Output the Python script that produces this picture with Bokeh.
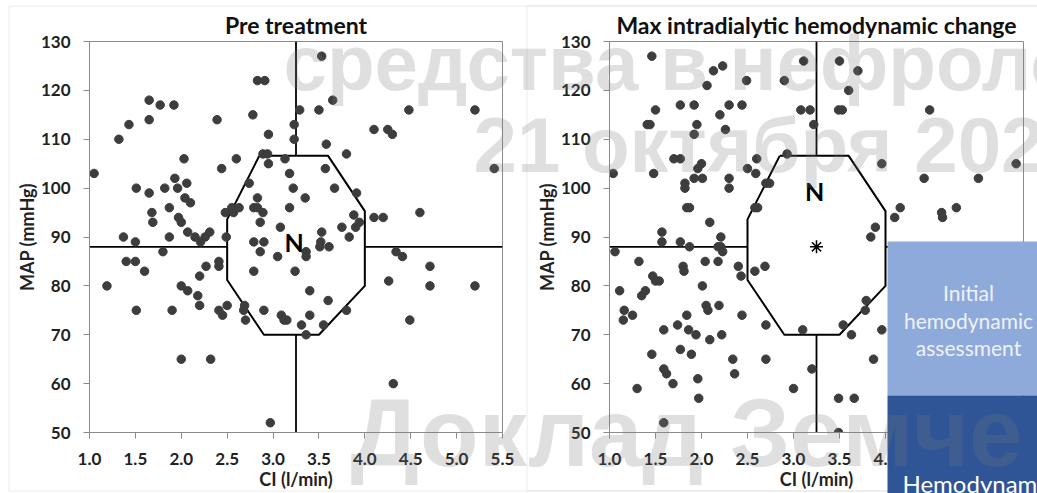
from bokeh.plotting import figure
from bokeh.layouts import row
from bokeh.models import Range1d, FixedTicker, NumeralTickFormatter, BoxAnnotation, Label, GridBox
from bokeh.core.properties import value
from bokeh.embed import file_html
from bokeh.resources import INLINE

# ---------------- data ----------------
pre_ci = [1.05, 1.32, 1.43, 1.65, 1.65, 1.77, 1.92, 1.51, 1.65, 1.68, 1.69, 1.37, 1.5, 1.82, 1.87, 1.87,
          1.93, 1.96, 2.03, 2.06, 2.04, 2.1, 1.97, 2.0, 2.07, 2.15, 2.21, 2.26, 2.31, 2.39, 2.44, 2.49,
          2.48, 2.55, 2.57, 2.6, 2.63, 2.74, 2.78, 2.83, 2.91, 2.83, 2.79, 2.83, 2.89, 2.86, 2.79, 2.9,
          2.89, 2.94, 2.95, 2.95, 3.08, 3.13, 3.18, 3.22, 3.18, 3.23, 3.23, 3.29, 3.35, 3.53, 3.50, 3.65,
          3.58, 3.57, 3.67, 3.8, 3.91, 3.88, 3.94, 3.90, 3.75, 3.83, 3.53, 3.52, 3.61, 4.1, 4.25, 4.3,
          4.2, 4.1, 4.48, 4.6, 5.2, 5.41,
          1.19, 1.4, 1.5, 1.6, 1.51, 1.8, 1.9, 2.0, 2.07, 2.18, 2.2, 2.2, 2.27, 2.41, 2.41, 2.41, 2.45,
          2.5, 2.0, 2.32, 2.69, 2.68, 2.7, 2.79, 2.9, 2.86, 2.97, 3.05, 3.09, 3.12, 3.15, 3.24, 3.31,
          3.36, 3.36, 3.40, 3.40, 3.36, 3.55, 3.6, 3.51, 3.8, 4.26, 4.34, 4.41, 4.31, 4.49, 4.71, 4.71, 5.2]
pre_map = [103, 110, 113, 118, 114, 117, 117, 100, 99, 95, 93, 90, 89, 100, 96, 90,
           102, 100, 106, 101, 98, 97, 94, 93, 91, 90, 89, 90, 91, 114, 104, 90,
           95, 96, 95, 106, 96, 101, 115, 122, 122, 98, 96, 96, 95, 93, 89, 89,
           107, 107, 105, 111, 92, 106, 103, 100, 96, 113, 110, 116, 98, 127, 116, 118,
           109, 104, 100, 107, 99, 94.5, 93, 92, 92, 90, 91, 89, 88, 112, 112, 111,
           94, 94, 116, 95, 116, 104,
           80, 85, 85, 83, 75, 87, 75, 80, 79, 78, 82, 76, 84, 84, 85, 75, 74,
           76, 65, 65, 76, 75, 73, 83, 75, 87, 52, 86, 74, 73, 73, 83, 72,
           87, 86, 79, 74, 70, 72, 77, 88, 75, 81, 87, 86, 60, 73, 84, 80, 80]

max_ci = [1.04, 1.46, 1.41, 1.44, 1.5, 1.48, 1.7, 1.77, 1.77, 1.92, 1.95, 1.92, 1.82, 1.82, 1.84, 1.87,
          1.92, 2.01, 1.96, 2.0, 2.06, 2.13, 2.23, 2.2, 2.3, 2.26, 2.3, 2.3, 2.09, 1.57, 1.57, 2.21,
          2.44, 2.49, 2.5, 2.6, 2.59, 2.7, 2.74, 2.58, 2.61, 2.9, 2.93, 3.11, 3.08, 3.18, 3.22, 3.5,
          3.7, 3.6, 3.49, 3.53, 3.96, 3.84, 3.89, 4.1, 4.16, 4.42, 4.48, 4.61, 4.62, 4.77, 5.01, 5.42,
          1.06, 1.11, 1.16, 1.15, 1.25, 1.32, 1.3, 1.35, 1.39, 1.47, 1.5, 1.54, 1.46, 1.59, 1.59, 1.62,
          1.69, 1.59, 1.74, 1.77, 1.8, 1.81, 1.84, 1.86, 1.94, 1.89, 1.96, 1.97, 2.01, 2.04, 2.05, 2.07,
          2.09, 2.19, 2.18, 2.22, 2.21, 2.23, 2.34, 2.36, 2.4, 2.43, 2.44, 2.58, 2.69, 2.7, 2.7, 3.0,
          3.1, 3.2, 3.49, 3.66, 3.49, 3.54, 3.63, 3.79, 3.78, 3.87, 3.96, 1.77, 1.87, 2.18]
max_map = [103, 127, 113, 113, 116, 103, 106, 106, 117, 117, 113, 111, 101, 100, 96, 96,
           102, 102, 104, 105, 121, 124, 125, 115, 117, 112, 102, 100, 93, 91, 89, 90,
           117, 122, 104, 106, 103, 101, 101, 96, 96, 122, 107, 126, 116, 116, 113, 126,
           124, 120, 116, 116, 105, 90, 92, 94, 96, 102, 116, 95, 94, 96, 102, 105,
           87, 79, 75, 73, 74, 85, 59, 78, 79, 82, 81, 81, 66, 71, 63, 62,
           60, 52, 72, 67, 84, 83, 74, 71, 70, 66, 61, 57, 80, 85, 76, 75,
           69, 76, 85, 70, 88, 87, 65, 62, 84, 82, 74, 83, 84, 72, 65, 59,
           71, 63, 57, 57, 50, 72, 70, 77, 75, 65, 71, 89, 88, 88]

x_ticks = [1.0, 1.5, 2.0, 2.5, 3.0, 3.5, 4.0, 4.5, 5.0, 5.5]
y_ticks = [50, 60, 70, 80, 90, 100, 110, 120, 130]

# normal hemodynamic zone (octagon) and reference cross
zone_ci = [2.85, 3.6, 4.0, 4.0, 3.5, 2.9, 2.5, 2.5, 2.85]
zone_map = [106.6, 106.6, 95.3, 80.0, 70.0, 70.0, 81.2, 93.6, 106.6]
ref_ci = 3.25
ref_map = 88.0

# slide texts
box_lines = ["Initial", "hemodynamic", "assessment"]
box2_text = "Hemodynamic"
wm_lines = ["средства в нефроло", "21 октября 202", "Доклад Земче"]

FONT = "Lato"
AX = "#8a8a8a"
PT = "#3d3d3d"


def make_panel(title, ci, mp, n_map, star, w, right_border):
    p = figure(width=w, height=493, x_range=Range1d(1.0, 5.5), y_range=Range1d(50, 130),
               output_backend="svg", toolbar_location=None,
               min_border_left=89, min_border_right=right_border,
               min_border_top=41, min_border_bottom=61)
    p.title.text = title
    p.title.align = "center"
    p.title.text_font = FONT
    p.title.text_font_size = "23px"
    p.title.text_font_style = "bold"
    p.title.text_color = "#111111"
    p.title.standoff = 6
    p.xgrid.visible = False
    p.ygrid.visible = False
    p.background_fill_color = "white"
    p.border_fill_color = "white"
    p.outline_line_color = AX
    p.outline_line_width = 1
    p.xaxis.ticker = FixedTicker(ticks=x_ticks)
    p.xaxis.formatter = NumeralTickFormatter(format="0.0")
    p.yaxis.ticker = FixedTicker(ticks=y_ticks)
    for ax in (p.xaxis[0], p.yaxis[0]):
        ax.axis_line_color = AX
        ax.major_tick_line_color = AX
        ax.minor_tick_line_color = None
        ax.major_tick_in = 0
        ax.major_tick_out = 6
        ax.major_label_text_font = FONT
        ax.major_label_text_font_size = "17px"
        ax.major_label_text_font_style = "bold"
        ax.major_label_text_color = "#222222"
        ax.axis_label_text_font = FONT
        ax.axis_label_text_font_size = "18px"
        ax.axis_label_text_font_style = "bold"
        ax.axis_label_text_color = "#222222"
        ax.axis_label_standoff = 0
    p.xaxis.major_label_standoff = 14
    p.yaxis.major_label_standoff = 13
    p.xaxis.axis_label = "CI (l/min)"
    p.yaxis.axis_label = "MAP (mmHg)"

    # reference cross
    p.segment(x0=[1.0, 4.0], y0=[ref_map, ref_map], x1=[2.5, 5.5], y1=[ref_map, ref_map],
              line_color="black", line_width=1.8)
    p.segment(x0=[ref_ci, ref_ci], y0=[50, max(zone_map)], x1=[ref_ci, ref_ci], y1=[min(zone_map), 130],
              line_color="black", line_width=1.8)
    # normal zone
    p.line(zone_ci, zone_map, line_color="black", line_width=2)

    p.scatter(ci, mp, size=8.5, marker="circle", fill_color=PT, line_color=PT)

    p.text(x=[3.23], y=[n_map], text=["N"], text_align="center", text_baseline="middle",
           text_font=value(FONT), text_font_size="25px", text_font_style="bold", text_color="black")
    if star:
        p.scatter([ref_ci], [ref_map], marker="asterisk", size=13, line_color="black", line_width=1.5)
    return p


p1 = make_panel("Pre treatment", pre_ci, pre_map, 89.0, False, 520, 18)
p2 = make_panel("Max intradialytic hemodynamic change", max_ci, max_map, 99.4, True, 517, 14)

# ---------- slide layer on top (pixel coordinates of the slide) ----------
ov = figure(width=1037, height=493, x_range=Range1d(0, 1037), y_range=Range1d(493, 0),
            output_backend="svg", toolbar_location=None,
            x_axis_location=None, y_axis_location=None,
            min_border_left=0, min_border_right=0, min_border_top=0, min_border_bottom=0,
            background_fill_color=None, border_fill_color=None, outline_line_color=None)
ov.xgrid.visible = False
ov.ygrid.visible = False

# panel frames of the slide
ov.add_layout(BoxAnnotation(left=8.5, right=1100, top=5.5, bottom=490.5, fill_alpha=0,
                            line_color="#c2c2c2", line_width=1))
ov.add_layout(BoxAnnotation(left=526.5, right=1100, top=5.5, bottom=490.5, fill_alpha=0,
                            line_color="#c2c2c2", line_width=1))

# slide boxes
ov.add_layout(BoxAnnotation(left=887, right=1037, top=241, bottom=395, fill_color="#8eaadb",
                            fill_alpha=1, line_color=None))
ov.add_layout(BoxAnnotation(left=887, right=1037, top=395, bottom=493, fill_color="#2f5597",
                            fill_alpha=1, line_color=None))
for txt, yy in zip(box_lines, (292, 320, 347)):
    ov.add_layout(Label(x=968, y=yy, text=txt, text_align="center", text_baseline="middle",
                        text_font=FONT, text_font_size="21px", text_color="#eef2f9"))
ov.add_layout(Label(x=902, y=483, text=box2_text, text_align="left", text_baseline="middle",
                    text_font=FONT, text_font_size="24px", text_color="white"))

# watermark
for t, xx, yy, fs in zip(wm_lines, (283, 473, 350), (62, 144, 432), ("78px", "78px", "96px")):
    ov.add_layout(Label(x=xx, y=yy, text=t, text_align="left", text_baseline="alphabetic",
                        text_font="Liberation Sans", text_font_style="bold",
                        text_font_size=fs, text_color="#7a7a7a", text_alpha=0.24))

charts = row(p1, p2, spacing=0)
layout = GridBox(children=[(charts, 0, 0), (ov, 0, 0)], spacing=0)
open("out.html", "w").write(file_html(layout, INLINE))
